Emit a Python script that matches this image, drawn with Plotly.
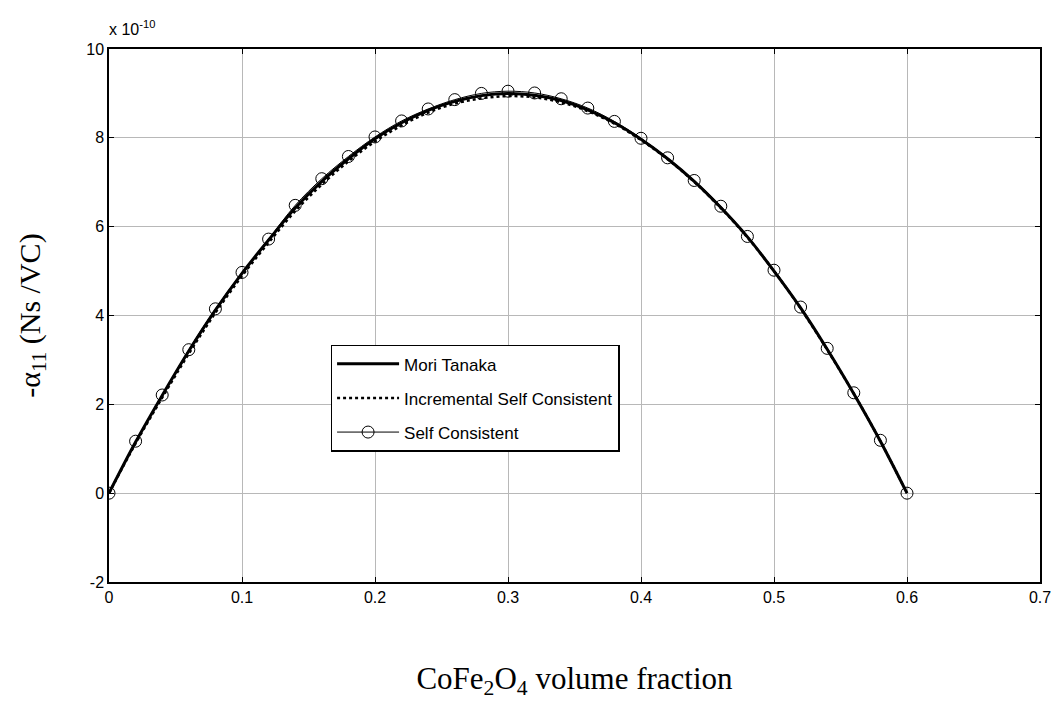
import plotly.graph_objects as go

# CoFe2O4 volume fraction
fraction = [round(0.02 * i, 2) for i in range(31)]

# -alpha_11 in units of 1e-10 Ns/VC
mori_tanaka = [0, 1.15, 2.20, 3.20, 4.12, 4.95, 5.70, 6.42, 7.02, 7.53, 7.98,
               8.34, 8.62, 8.82, 8.95, 9.00, 8.96, 8.84, 8.63, 8.34, 7.97,
               7.53, 7.02, 6.43, 5.77, 5.00, 4.17, 3.24, 2.24, 1.17, 0]
incremental_sc = [0, 1.12, 2.15, 3.14, 4.06, 4.89, 5.64, 6.35, 6.95, 7.47, 7.92,
                  8.28, 8.57, 8.77, 8.89, 8.94, 8.91, 8.80, 8.60, 8.32, 7.95,
                  7.52, 7.01, 6.42, 5.76, 5.00, 4.16, 3.23, 2.24, 1.17, 0]
self_consistent = [0, 1.17, 2.21, 3.23, 4.15, 4.97, 5.72, 6.48, 7.08, 7.58, 8.02,
                   8.38, 8.65, 8.86, 9.00, 9.05, 9.01, 8.88, 8.67, 8.37, 7.99,
                   7.55, 7.04, 6.46, 5.78, 5.02, 4.19, 3.26, 2.26, 1.19, 0]

x_ticks = [0, 0.1, 0.2, 0.3, 0.4, 0.5, 0.6, 0.7]
x_tick_text = ["0", "0.1", "0.2", "0.3", "0.4", "0.5", "0.6", "0.7"]
y_ticks = [-2, 0, 2, 4, 6, 8, 10]
y_tick_text = ["-2", "0", "2", "4", "6", "8", "10"]

fig = go.Figure()
fig.add_trace(go.Scatter(x=fraction, y=mori_tanaka, mode="lines", name="Mori Tanaka",
                         legendgroup="mt",
                         line=dict(color="black", width=3, shape="spline")))
fig.add_trace(go.Scatter(x=fraction, y=incremental_sc, mode="lines",
                         name="Incremental Self Consistent", legendgroup="isc",
                         line=dict(color="black", width=2.5, dash="dot", shape="spline")))
fig.add_trace(go.Scatter(x=fraction, y=self_consistent, mode="lines+markers",
                         name="Self Consistent", legendgroup="sc",
                         line=dict(color="black", width=1, shape="spline"),
                         marker=dict(symbol="circle-open", size=12, color="black",
                                     line=dict(width=1))))

tick_font = dict(family="Liberation Sans, Arial", size=16, color="black")
title_font = dict(family="Liberation Serif, Times New Roman", size=31, color="black")

axis_common = dict(showline=True, linecolor="black", linewidth=1.5, mirror="ticks",
                   ticks="inside", ticklen=5, tickcolor="black",
                   showgrid=True, gridcolor="#b8b8b8", gridwidth=1, zeroline=False,
                   tickfont=tick_font)

fig.update_xaxes(range=[0, 0.7], tickvals=x_ticks, ticktext=x_tick_text,
                 title=dict(text="CoFe<sub>2</sub>O<sub>4</sub> volume fraction",
                            font=title_font, standoff=62),
                 **axis_common)
fig.update_yaxes(range=[-2, 10], tickvals=y_ticks, ticktext=y_tick_text,
                 title=dict(text="-α<sub>11</sub> (Ns /VC)",
                            font=dict(title_font, size=30), standoff=37),
                 **axis_common)

fig.add_annotation(text="x 10<sup>-10</sup>", xref="paper", yref="paper",
                   x=0, y=1.0, xanchor="left", yanchor="bottom", yshift=9, xshift=-2,
                   showarrow=False,
                   font=dict(family="Liberation Sans, Arial", size=16, color="black"))

fig.update_layout(
    width=1063, height=705,
    margin=dict(l=109, r=14, t=49, b=123),
    paper_bgcolor="white", plot_bgcolor="white",
    showlegend=True,
    legend=dict(x=0.238, y=0.445, xanchor="left", yanchor="top",
                bgcolor="white", bordercolor="black", borderwidth=1.5,
                font=dict(family="Liberation Sans, Arial", size=17, color="black"),
                tracegroupgap=9, itemwidth=62),
)

fig.write_html("out.html")
